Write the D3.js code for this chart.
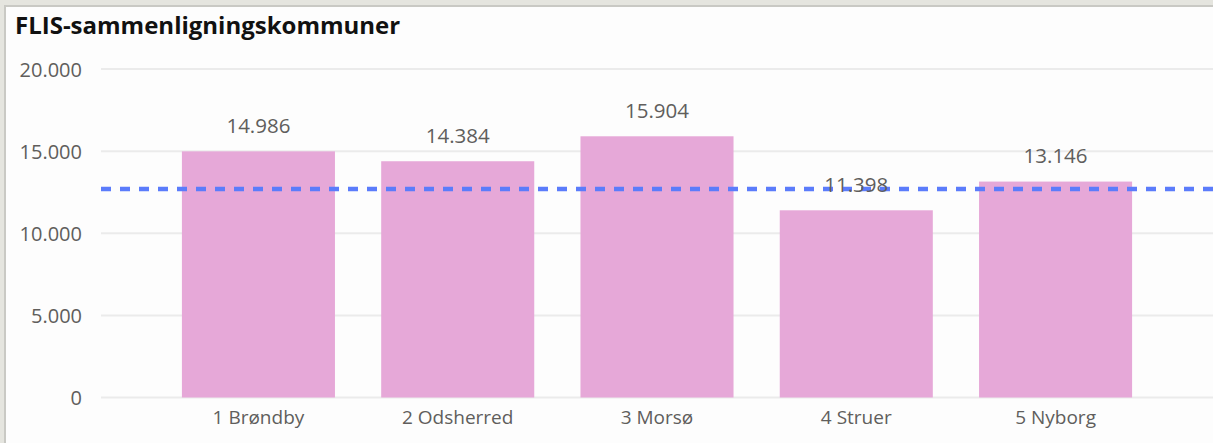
<!DOCTYPE html>
<html>
<head>
<meta charset="utf-8">
<script src="https://cdn.jsdelivr.net/npm/d3@7"></script>
<style>
  html, body { margin: 0; padding: 0; background: #fdfdfd; }
  svg { display: block; }
</style>
</head>
<body>
<svg id="chart" width="1213" height="443"></svg>
<script>
// Kommuner i sammenligningsgruppen og deres værdier
const categories = ["1 Brøndby", "2 Odsherred", "3 Morsø", "4 Struer", "5 Nyborg"];
const values = [14986, 14384, 15904, 11398, 13146];
const referenceValue = 12690;
const yTicks = [0, 5000, 10000, 15000, 20000];
const titleText = "FLIS-sammenligningskommuner";

const W = 1213, H = 443;
const svg = d3.select("#chart");
const fmt = v => d3.format(",")(v).replace(/,/g, ".");

// Ramme
svg.append("rect").attr("x", 0).attr("y", 0).attr("width", W).attr("height", H).attr("fill", "#e5e5df");
svg.append("rect").attr("x", 4).attr("y", 5).attr("width", W - 4).attr("height", H - 5).attr("fill", "#c9c9c4");
svg.append("rect").attr("x", 6).attr("y", 7).attr("width", W - 6).attr("height", H - 7).attr("fill", "#fdfdfd");

const y = d3.scaleLinear().domain([0, 20000]).range([397.5, 69]);
const x = d3.scaleBand().domain(categories).range([101, 1213]).paddingInner(0.232).paddingOuter(0.406);

const textColor = "#605e5c";
const font = "'Open Sans', 'Segoe UI', sans-serif";

// Titel
svg.append("text")
  .attr("x", 15).attr("y", 34)
  .attr("font-family", font).attr("font-weight", 700).attr("font-size", 24)
  .attr("fill", "#111").text(titleText);

// Gitterlinjer og y-akse
const yAxis = d3.axisLeft(y).tickValues(yTicks).tickFormat(fmt).tickSize(0).tickPadding(0);
const gy = svg.append("g").attr("transform", "translate(82,0)").call(yAxis);
gy.select(".domain").remove();
gy.selectAll("text").attr("font-family", font).attr("font-size", 20).attr("fill", textColor).attr("dy", "0.35em");

svg.append("g").selectAll("line").data(yTicks).join("line")
  .attr("x1", 101).attr("x2", W)
  .attr("y1", d => y(d)).attr("y2", d => y(d))
  .attr("stroke", "#ebebeb").attr("stroke-width", 2);

// Søjler
svg.append("g").selectAll("rect").data(values).join("rect")
  .attr("x", (d, i) => x(categories[i]))
  .attr("width", x.bandwidth())
  .attr("y", d => y(d))
  .attr("height", d => y(0) - y(d))
  .attr("fill", "#e6a8d8");

// Referencelinje (stiplet)
svg.append("line")
  .attr("x1", 101).attr("x2", W)
  .attr("y1", y(referenceValue)).attr("y2", y(referenceValue))
  .attr("stroke", "#5b7cfb").attr("stroke-width", 4.5)
  .attr("stroke-dasharray", "10,9");

// Værdietiketter
svg.append("g").selectAll("text").data(values).join("text")
  .attr("x", (d, i) => x(categories[i]) + x.bandwidth() / 2)
  .attr("y", d => y(d) - 18.5)
  .attr("text-anchor", "middle")
  .attr("font-family", font).attr("font-size", 20.5).attr("fill", textColor)
  .text(d => fmt(d));

// x-akse
const xAxis = d3.axisBottom(x).tickSize(0).tickPadding(0);
const gx = svg.append("g").attr("transform", "translate(0,424)").call(xAxis);
gx.select(".domain").remove();
gx.selectAll("text").attr("font-family", font).attr("font-size", 19).attr("fill", textColor).attr("dy", 0);
</script>
</body>
</html>
